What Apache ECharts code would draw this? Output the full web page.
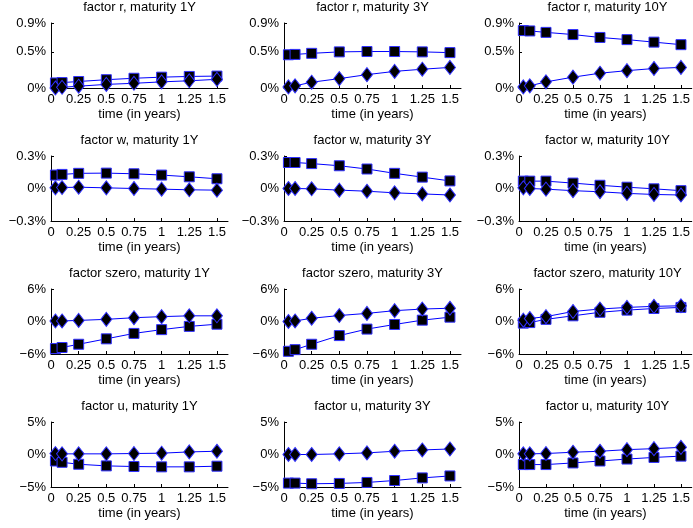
<!DOCTYPE html>
<html>
<head>
<meta charset="utf-8">
<script src="https://cdn.jsdelivr.net/npm/echarts@6/dist/echarts.min.js"></script>
<style>
  html, body { margin: 0; padding: 0; background: #fff; }
  #chart { width: 693px; height: 528px; }
</style>
</head>
<body>
<div id="chart"></div>
<script>
// Horizon (years) at which each response is reported
const times = [0.04, 0.1, 0.25, 0.5, 0.75, 1, 1.25, 1.5];
const xTicks = [0, 0.25, 0.5, 0.75, 1, 1.25, 1.5];

const factors = ['r', 'w', 'szero', 'u'];
const maturities = ['1Y', '3Y', '10Y'];

// y-axis ticks per factor row (percent)
const yTicksR = [0, 0.5, 0.9];
const yTicksW = [-0.3, 0, 0.3];
const yTicksS = [-6, 0, 6];
const yTicksU = [-5, 0, 5];

// factor r (square series / diamond series), percent
const rSq1 = [0.07, 0.075, 0.09, 0.115, 0.135, 0.15, 0.16, 0.165];
const rDi1 = [0, 0.01, 0.025, 0.05, 0.065, 0.085, 0.10, 0.12];
const rSq3 = [0.46, 0.465, 0.48, 0.50, 0.505, 0.505, 0.50, 0.49];
const rDi3 = [0.015, 0.03, 0.08, 0.13, 0.185, 0.23, 0.26, 0.285];
const rSq10 = [0.795, 0.79, 0.77, 0.74, 0.70, 0.67, 0.635, 0.60];
const rDi10 = [0.015, 0.03, 0.085, 0.15, 0.205, 0.24, 0.27, 0.285];

// factor w
const wSq1 = [0.124, 0.13, 0.14, 0.142, 0.136, 0.124, 0.108, 0.09];
const wDi1 = [0.006, 0.009, 0.012, 0.006, 0, -0.006, -0.012, -0.015];
const wSq3 = [0.24, 0.24, 0.23, 0.21, 0.18, 0.14, 0.105, 0.07];
const wDi3 = [0, 0, -0.003, -0.015, -0.025, -0.04, -0.05, -0.06];
const wSq10 = [0.068, 0.068, 0.068, 0.05, 0.03, 0.012, -0.003, -0.02];
const wDi10 = [0.006, 0, -0.006, -0.02, -0.03, -0.045, -0.055, -0.06];

// factor szero
const sSq1 = [-5.0, -4.8, -4.2, -3.2, -2.2, -1.5, -0.9, -0.5];
const sDi1 = [0.1, 0.1, 0.2, 0.4, 0.7, 0.9, 1.05, 1.05];
const sSq3 = [-5.5, -5.2, -4.2, -2.6, -1.4, -0.55, 0.25, 0.8];
const sDi3 = [0, 0.1, 0.6, 1.1, 1.5, 2.0, 2.3, 2.45];
const sSq10 = [-0.3, -0.2, 0.4, 1.05, 1.7, 2.1, 2.4, 2.6];
const sDi10 = [0.25, 0.55, 0.9, 1.85, 2.3, 2.6, 2.8, 2.9];

// factor u
const uSq1 = [-1.0, -1.2, -1.5, -1.75, -1.85, -1.9, -1.9, -1.8];
const uDi1 = [0.15, 0.1, 0.1, 0.1, 0.15, 0.2, 0.4, 0.5];
const uSq3 = [-4.4, -4.4, -4.5, -4.45, -4.3, -4.0, -3.6, -3.3];
const uDi3 = [0, 0, 0, 0.1, 0.25, 0.5, 0.7, 0.85];
const uSq10 = [-1.55, -1.55, -1.55, -1.3, -1.0, -0.7, -0.45, -0.25];
const uDi10 = [0.1, 0.1, 0.15, 0.35, 0.5, 0.75, 0.9, 1.1];

const rows = [
  { ticks: yTicksR, sq: [rSq1, rSq3, rSq10], di: [rDi1, rDi3, rDi10] },
  { ticks: yTicksW, sq: [wSq1, wSq3, wSq10], di: [wDi1, wDi3, wDi10] },
  { ticks: yTicksS, sq: [sSq1, sSq3, sSq10], di: [sDi1, sDi3, sDi10] },
  { ticks: yTicksU, sq: [uSq1, uSq3, uSq10], di: [uDi1, uDi3, uDi10] }
];

// panel layout (pixels)
const colLeft = [51, 284, 519];
const rowTop = [23, 156, 289, 422];
const panelW = 177;
const panelH = 65;
const FONT = 'Liberation Sans, Arial, Helvetica, sans-serif';
const FS = 13;
const BLUE = '#0000ff';

function fmtPct(v) {
  const s = String(Math.abs(v)) + '%';
  return v < 0 ? '\u2212' + s : s;
}
function pairs(ys) { return times.map((t, i) => [t, ys[i]]); }

const grid = [], xAxis = [], yAxis = [], series = [], graphic = [];
rows.forEach((row, r) => {
  maturities.forEach((m, c) => {
    const idx = grid.length;
    grid.push({ left: colLeft[c], top: rowTop[r], width: panelW, height: panelH });
    xAxis.push({
      type: 'value', gridIndex: idx, min: 0, max: 1.6,
      axisLine: { show: true, onZero: false, lineStyle: { color: '#000', width: 1 } },
      axisTick: { show: true, inside: true, length: 3, customValues: xTicks, lineStyle: { color: '#000' } },
      axisLabel: { customValues: xTicks, margin: 5, color: '#000', fontSize: FS, fontFamily: FONT },
      splitLine: { show: false },
      name: 'time (in years)', nameLocation: 'middle', nameGap: 20,
      nameTextStyle: { color: '#000', fontSize: FS, fontFamily: FONT }
    });
    const tk = row.ticks;
    yAxis.push({
      type: 'value', gridIndex: idx, min: tk[0], max: tk[tk.length - 1],
      axisLine: { show: true, onZero: false, lineStyle: { color: '#000', width: 1 } },
      axisTick: { show: true, inside: true, length: 3, customValues: tk, lineStyle: { color: '#000' } },
      axisLabel: { customValues: tk, margin: 5, color: '#000', fontSize: FS, fontFamily: FONT, formatter: fmtPct },
      splitLine: { show: false }
    });
    series.push({
      type: 'line', xAxisIndex: idx, yAxisIndex: idx, data: pairs(row.sq[c]),
      clip: false, symbol: 'rect', symbolSize: 10, showAllSymbol: true,
      lineStyle: { color: BLUE, width: 1 },
      itemStyle: { color: '#000', borderColor: '#3030ff', borderWidth: 1 },
      emphasis: { disabled: true }, animation: false
    });
    series.push({
      type: 'line', xAxisIndex: idx, yAxisIndex: idx, data: pairs(row.di[c]),
      clip: false, symbol: 'diamond', symbolSize: [11, 14], showAllSymbol: true,
      lineStyle: { color: BLUE, width: 1 },
      itemStyle: { color: '#000', borderColor: '#3030ff', borderWidth: 1 },
      emphasis: { disabled: true }, animation: false
    });
    graphic.push({
      type: 'text', x: colLeft[c] + panelW / 2, y: rowTop[r] - 16,
      style: {
        text: 'factor ' + factors[r] + ', maturity ' + m,
        fill: '#000', font: FS + 'px ' + FONT, textAlign: 'center', textVerticalAlign: 'middle'
      }
    });
  });
});

const chart = echarts.init(document.getElementById('chart'), null, { renderer: 'canvas' });
chart.setOption({
  backgroundColor: '#fff',
  animation: false,
  grid, xAxis, yAxis, series, graphic
});
</script>
</body>
</html>
